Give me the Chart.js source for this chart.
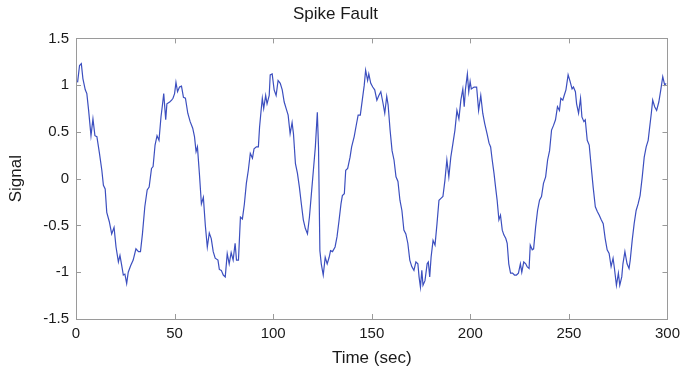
<!DOCTYPE html>
<html>
<head>
<meta charset="utf-8">
<script src="https://cdn.jsdelivr.net/npm/chart.js@4"></script>
<style>
  html, body { margin: 0; padding: 0; background: #fff; }
  #wrap { width: 686px; height: 377px; }
</style>
</head>
<body>
<div id="wrap"><canvas id="chart" width="686" height="377"></canvas></div>
<script>
// values
const timeSec = [
  0.8, 1.8, 2.7, 3.5, 4.7, 5.5, 6.4, 7.6, 8.6, 9.6, 10.6, 11.9, 13.1, 13.9, 14.8, 15.6, 16.9, 18.1, 19.3, 20.3,
  21.5, 22.3, 23.2, 24.0, 24.8, 25.7, 26.5, 27.7, 29.0, 30.4, 31.7, 32.7, 33.7, 34.9, 36.1, 37.1, 38.3, 39.1, 40.1, 41.1,
  42.1, 43.1, 43.8, 44.5, 45.5, 46.1, 47.5, 48.5, 49.2, 50.0, 50.7, 51.5, 52.5, 53.5, 54.5, 55.5, 56.7, 57.9, 59.2, 60.1,
  60.9, 61.6, 62.6, 63.6, 64.6, 65.6, 66.6, 67.6, 68.6, 69.6, 70.6, 72.0, 72.7, 73.7, 74.7, 75.7, 76.7, 77.7, 78.7, 79.7,
  80.7, 81.4, 82.4, 83.4, 84.4, 85.4, 86.4, 87.4, 88.4, 89.5, 90.3, 91.5, 92.5, 93.1, 93.8, 94.5, 95.2, 96.2, 96.9, 98.0,
  98.5, 99.5, 100.5, 101.5, 102.5, 103.6, 104.6, 105.6, 106.6, 107.6, 108.6, 109.6, 110.3, 111.3, 112.3, 113.3, 114.3, 115.3, 116.3, 117.4,
  118.4, 119.4, 120.4, 121.4, 122.4, 123.0, 123.7, 124.4, 125.4, 126.4, 127.4, 128.4, 129.1, 130.1, 131.4, 132.4, 133.4, 134.4, 135.1, 136.1,
  136.8, 137.8, 139.0, 139.8, 141.1, 142.3, 143.1, 144.2, 145.2, 146.2, 146.9, 147.9, 148.5, 149.5, 150.5, 151.5, 152.6, 153.6, 154.6, 155.6,
  156.6, 157.6, 158.3, 159.3, 160.3, 161.3, 162.3, 163.3, 164.3, 165.3, 166.3, 167.3, 168.3, 169.3, 170.3, 171.4, 172.4, 173.4, 174.0, 174.7,
  175.4, 176.0, 177.0, 178.1, 178.7, 179.4, 180.1, 181.1, 182.1, 183.1, 184.1, 185.1, 186.1, 187.1, 188.1, 189.1, 190.1, 191.2, 192.2, 193.2,
  194.2, 195.2, 196.2, 196.9, 197.5, 198.5, 199.2, 199.9, 200.5, 201.9, 203.2, 204.2, 205.3, 206.3, 207.3, 208.5, 209.5, 210.3, 211.1, 212.0,
  212.8, 213.6, 214.5, 215.3, 216.2, 217.0, 218.0, 218.7, 219.5, 220.4, 221.4, 222.4, 223.4, 224.4, 225.4, 226.1, 227.1, 228.1, 228.8, 229.8,
  230.4, 231.4, 232.1, 233.1, 234.1, 235.1, 236.1, 237.1, 238.2, 239.2, 240.2, 241.2, 242.2, 243.2, 244.2, 245.2, 245.9, 246.9, 247.6, 248.5,
  249.6, 250.6, 251.6, 252.3, 253.3, 253.9, 254.9, 255.9, 256.6, 257.6, 258.3, 259.3, 260.3, 261.3, 262.3, 263.4, 264.4, 265.4, 266.4, 267.4,
  268.4, 269.4, 270.4, 271.4, 272.4, 273.1, 274.1, 275.1, 275.8, 276.8, 277.4, 278.4, 279.5, 280.5, 281.1, 282.1, 283.1, 284.1, 285.1, 286.1,
  287.2, 288.2, 289.2, 290.2, 290.8, 291.8, 292.5, 293.5, 294.5, 295.6, 296.6, 297.6, 298.6, 299.3
];

const signal = [
  1.03, 1.21, 1.23, 1.07, 0.95, 0.91, 0.73, 0.46, 0.64, 0.46, 0.45, 0.27, 0.09, -0.07, -0.11, -0.36, -0.46, -0.59, -0.52, -0.73,
  -0.89, -0.82, -0.93, -1.03, -1.02, -1.12, -1.00, -0.93, -0.87, -0.75, -0.78, -0.78, -0.59, -0.30, -0.12, -0.09, 0.11, 0.13, 0.36, 0.46,
  0.41, 0.66, 0.78, 0.91, 0.63, 0.80, 0.82, 0.84, 0.86, 0.91, 1.03, 0.93, 0.98, 0.99, 0.87, 0.86, 0.70, 0.61, 0.54, 0.45,
  0.29, 0.34, 0.05, -0.27, -0.20, -0.50, -0.73, -0.58, -0.64, -0.78, -0.85, -0.87, -0.97, -0.98, -1.03, -1.05, -0.80, -0.91, -0.79, -0.87,
  -0.69, -0.87, -0.87, -0.41, -0.43, -0.27, -0.05, 0.09, 0.27, 0.22, 0.32, 0.34, 0.34, 0.55, 0.71, 0.86, 0.75, 0.89, 0.80, 0.89,
  1.11, 1.12, 0.95, 0.89, 1.05, 1.02, 0.95, 0.82, 0.75, 0.68, 0.48, 0.60, 0.48, 0.16, 0.06, -0.09, -0.27, -0.44, -0.53, -0.59,
  -0.41, -0.16, 0.09, 0.34, 0.71, 0.34, -0.77, -0.91, -1.03, -0.84, -0.91, -0.84, -0.77, -0.78, -0.73, -0.62, -0.45, -0.27, -0.18, -0.16,
  0.09, 0.11, 0.23, 0.34, 0.45, 0.59, 0.68, 0.68, 0.84, 1.00, 1.16, 1.05, 1.12, 1.02, 0.98, 0.95, 0.84, 0.89, 0.93, 0.82,
  0.70, 0.88, 0.79, 0.52, 0.30, 0.20, 0.02, -0.03, -0.23, -0.34, -0.55, -0.59, -0.69, -0.87, -0.94, -0.98, -0.89, -0.91, -1.05, -1.16,
  -0.98, -1.14, -1.09, -0.91, -0.89, -1.05, -0.84, -0.66, -0.71, -0.48, -0.23, -0.21, -0.19, -0.02, 0.20, 0.02, 0.23, 0.38, 0.52, 0.73,
  0.64, 0.84, 0.96, 0.77, 0.95, 1.12, 0.93, 1.04, 0.96, 0.98, 0.98, 0.73, 0.89, 0.70, 0.59, 0.48, 0.38, 0.34, 0.20, 0.06,
  -0.09, -0.23, -0.44, -0.39, -0.55, -0.60, -0.64, -0.69, -0.91, -1.01, -1.01, -1.03, -1.03, -1.01, -0.91, -1.00, -0.89, -0.91, -0.94, -0.96,
  -0.71, -0.76, -0.75, -0.52, -0.34, -0.23, -0.19, -0.05, 0.02, 0.20, 0.30, 0.52, 0.57, 0.63, 0.77, 0.73, 0.86, 0.84, 0.89, 0.95,
  1.11, 1.04, 0.96, 0.98, 0.93, 0.80, 0.70, 0.86, 0.66, 0.61, 0.63, 0.41, 0.36, 0.13, -0.09, -0.30, -0.35, -0.39, -0.44, -0.48,
  -0.64, -0.76, -0.80, -0.94, -0.85, -0.96, -1.14, -1.01, -1.14, -1.05, -0.91, -0.78, -0.91, -0.96, -0.87, -0.66, -0.48, -0.34, -0.27, -0.18,
  0.02, 0.23, 0.34, 0.41, 0.52, 0.70, 0.84, 0.77, 0.73, 0.82, 0.95, 1.09, 1.00, 1.02
];

const xTicks = [0, 50, 100, 150, 200, 250, 300];
const yTicks = [-1.5, -1, -0.5, 0, 0.5, 1, 1.5];

const fontFamily = '"Liberation Sans", Arial, sans-serif';
const frameColor = '#9a9a9a';
const textColor = '#1a1a1a';

// matlab style box with ticks pointing inward
const boxFrame = {
  id: 'boxFrame',
  afterDraw(chart) {
    const { ctx, chartArea: a, scales } = chart;
    const len = 5;
    ctx.save();
    ctx.strokeStyle = frameColor;
    ctx.lineWidth = 1;
    ctx.strokeRect(Math.round(a.left) + 0.5, Math.round(a.top) + 0.5,
      Math.round(a.right - a.left), Math.round(a.bottom - a.top));
    ctx.beginPath();
    xTicks.forEach(v => {
      const px = Math.round(scales.x.getPixelForValue(v)) + 0.5;
      ctx.moveTo(px, a.bottom); ctx.lineTo(px, a.bottom - len);
      ctx.moveTo(px, a.top); ctx.lineTo(px, a.top + len);
    });
    yTicks.forEach(v => {
      const py = Math.round(scales.y.getPixelForValue(v)) + 0.5;
      ctx.moveTo(a.left, py); ctx.lineTo(a.left + len, py);
      ctx.moveTo(a.right, py); ctx.lineTo(a.right - len, py);
    });
    ctx.stroke();
    ctx.restore();
  }
};

new Chart(document.getElementById('chart'), {
  type: 'line',
  data: {
    datasets: [{
      data: timeSec.map((t, i) => ({ x: t, y: signal[i] })),
      borderColor: '#3c4fbf',
      borderWidth: 1.2,
      pointRadius: 0,
      tension: 0,
      fill: false
    }]
  },
  options: {
    responsive: false,
    animation: false,
    layout: { padding: { left: 0, right: 15, top: 0, bottom: 0 } },
    plugins: {
      legend: { display: false },
      tooltip: { enabled: false },
      title: {
        display: true,
        text: 'Spike Fault',
        color: textColor,
        font: { family: fontFamily, size: 17, weight: 'normal' },
        padding: { top: 4, bottom: 14 }
      }
    },
    scales: {
      x: {
        type: 'linear',
        min: 0,
        max: 300,
        afterFit: s => { s.height = 58; },
        afterBuildTicks: s => { s.ticks = xTicks.map(v => ({ value: v })); },
        ticks: { color: textColor, font: { family: fontFamily, size: 15 }, padding: 6, maxRotation: 0 },
        grid: { display: false, drawTicks: false },
        border: { display: false },
        title: {
          display: true,
          text: 'Time (sec)',
          color: textColor,
          font: { family: fontFamily, size: 17 },
          padding: { top: 0, bottom: 8 }
        }
      },
      y: {
        min: -1.5,
        max: 1.5,
        afterFit: s => { s.width = 76; },
        afterBuildTicks: s => { s.ticks = yTicks.map(v => ({ value: v })); },
        ticks: { color: textColor, font: { family: fontFamily, size: 15 }, padding: 7, callback: v => String(v) },
        grid: { display: false, drawTicks: false },
        border: { display: false },
        title: {
          display: true,
          text: 'Signal',
          color: textColor,
          font: { family: fontFamily, size: 17 },
          padding: { top: 6, bottom: 4 }
        }
      }
    }
  },
  plugins: [boxFrame]
});
</script>
</body>
</html>
